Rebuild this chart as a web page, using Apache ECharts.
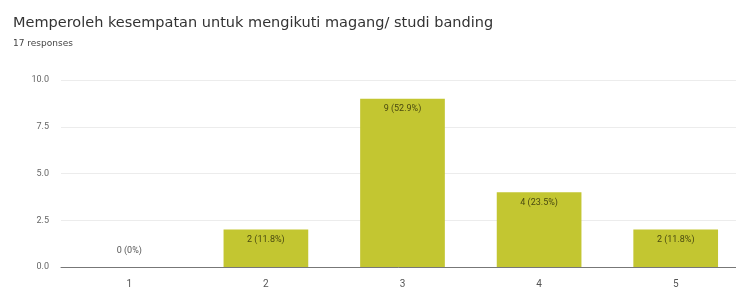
<!DOCTYPE html>
<html>
<head>
<meta charset="utf-8">
<script src="https://cdn.jsdelivr.net/npm/echarts@6/dist/echarts.min.js"></script>
<style>
  html, body { margin: 0; padding: 0; background: #fff; }
  #chart { width: 736px; height: 293px; }
</style>
</head>
<body>
<div id="chart"></div>
<script>
const categories = ['1', '2', '3', '4', '5']
const counts = [0, 2, 9, 4, 2]
const percentLabels = ['0%', '11.8%', '52.9%', '23.5%', '11.8%']
const yTicks = [0, 2.5, 5, 7.5, 10]

const chart = echarts.init(document.getElementById('chart'))

chart.setOption({
  animation: false,
  textStyle: { fontFamily: 'Roboto, sans-serif' },
  title: {
    text: 'Memperoleh kesempatan untuk mengikuti magang/ studi banding',
    subtext: '17 responses',
    left: 8,
    top: 11,
    itemGap: 8,
    textStyle: { fontSize: 14.5, fontWeight: 'normal', color: '#333', fontFamily: 'DejaVu Sans' },
    subtextStyle: { fontSize: 9, color: '#444', fontFamily: 'DejaVu Sans' }
  },
  grid: { left: 61, width: 683, top: 80, bottom: 26, outerBoundsMode: 'none' },
  xAxis: {
    type: 'category',
    data: categories,
    axisLine: { lineStyle: { color: '#777', width: 1 } },
    axisTick: { show: false },
    axisLabel: { color: '#555', fontSize: 10, margin: 12 }
  },
  yAxis: {
    type: 'value',
    min: yTicks[0],
    max: yTicks[yTicks.length - 1],
    interval: 2.5,
    axisLine: { show: false },
    axisTick: { show: false },
    axisLabel: {
      color: '#666',
      fontSize: 9,
      margin: 12,
      formatter: (v) => v.toFixed(1)
    },
    splitLine: { lineStyle: { color: '#ececec' } }
  },
  series: [
    {
      type: 'bar',
      barWidth: '62%',
      data: counts.map((v, i) => ({
        value: v,
        label: v === 0
          ? { position: 'top', color: '#555', distance: 12 }
          : { position: 'insideTop', color: '#4a4a10', distance: 6 }
      })),
      itemStyle: { color: '#c3c631' },
      label: {
        show: true,
        fontSize: 9,
        formatter: (p) => `${p.value} (${percentLabels[p.dataIndex]})`
      }
    }
  ]
})
</script>
</body>
</html>
